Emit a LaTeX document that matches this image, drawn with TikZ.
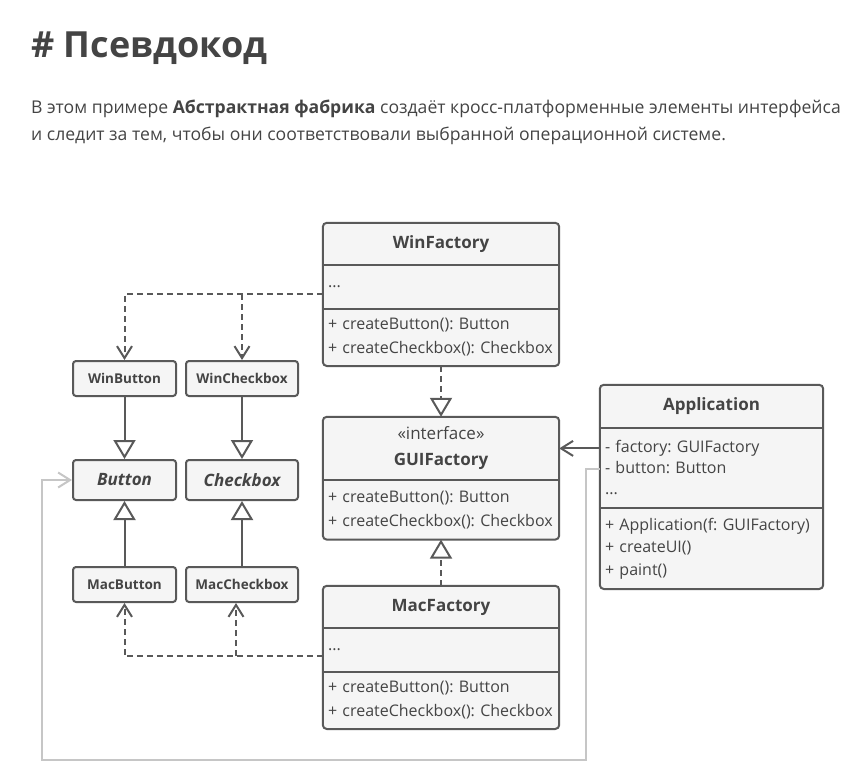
\documentclass[tikz,border=0pt]{standalone}
\usepackage{fontspec}
\setmainfont{Open Sans}
\usepackage{xcolor}
\usetikzlibrary{positioning}
\usetikzlibrary{arrows.meta,backgrounds}
\definecolor{ink}{HTML}{444444}
\definecolor{edgegray}{HTML}{595959}
\definecolor{boxfill}{HTML}{F5F5F5}
\definecolor{loopgray}{HTML}{C6C6C6}
\frenchspacing
\tikzset{edge/.style = {line width=2pt, draw=edgegray},
  inherit/.style = {edge, -{Triangle[open, length=19pt, width=22pt, fill=white]}},
  impl/.style = {inherit, dash pattern=on 6pt off 4pt},
  dep/.style = {edge, dash pattern=on 6pt off 4pt, -{Straight Barb[length=12pt, width=15pt]}},
  assoc/.style = {edge, -{Straight Barb[length=12pt, width=15pt]}},
  frame/.style = {line width=2pt, draw=edgegray, fill=boxfill, rounded corners=4pt}}

\begin{document}
\begin{tikzpicture}[x=1pt, y=-1pt, node distance=0pt, text=ink,
    head/.style={inner xsep=5pt, inner ysep=0pt, align=center, font=\fontsize{17}{26}\selectfont\bfseries},
    part/.style={inner xsep=5pt, inner ysep=0pt, align=left, font=\fontsize{16}{24}\selectfont},
    small/.style={draw=edgegray, fill=boxfill, line width=2pt, rounded corners=3pt, inner sep=0pt, minimum height=35pt, font=\fontsize{13.5}{13.5}\selectfont\bfseries},
    abstract/.style={small, minimum height=40pt, font=\fontsize{17}{17}\selectfont\bfseries\itshape}]
  \useasboundingbox (0,0) rectangle (864,779);

  % heading
  \node[anchor=base west, inner sep=0pt, font=\fontsize{36}{36}\selectfont\bfseries] (title) at (31,57) {\# Псевдокод};
  \node[anchor=base west, inner sep=0pt, font=\fontsize{17.6}{27}\selectfont] (intro1) at (31,113) {В этом примере \textbf{Абстрактная фабрика} создаёт кросс-платформенные элементы интерфейса};
  \node[anchor=base west, inner sep=0pt, font=\fontsize{17.6}{27}\selectfont] (intro2) at (31,140) {и следит за тем, чтобы они соответствовали выбранной операционной системе.};

  % factories
  \node[head, text width=226pt, minimum height=42pt] (winhead) at (441,244) {WinFactory};
  \node[part, text width=226pt, minimum height=43pt, below=of winhead] (winattr) {...};
  \node[part, text width=226pt, minimum height=57pt, below=of winattr] (winmeth) {+ createButton(): Button\\+ createCheckbox(): Checkbox};

  \node[head, text width=226pt, minimum height=63pt, font=\fontsize{17}{26}\selectfont] (guihead) at (441,448.5) {«interface»\\\textbf{GUIFactory}};
  \node[part, text width=226pt, minimum height=59pt, below=of guihead] (guimeth) {+ createButton(): Button\\+ createCheckbox(): Checkbox};

  \node[head, text width=226pt, minimum height=42pt] (machead) at (441,607) {MacFactory};
  \node[part, text width=226pt, minimum height=43pt, below=of machead] (macattr) {...};
  \node[part, text width=226pt, minimum height=57pt, below=of macattr] (macmeth) {+ createButton(): Button\\+ createCheckbox(): Checkbox};

  \node[head, text width=213pt, minimum height=43pt] (apphead) at (711.5,406.5) {Application};
  \node[part, text width=213pt, minimum height=79pt, below=of apphead, font=\fontsize{16}{21}\selectfont] (appattr) {- factory: GUIFactory\\- button: Button\\...};
  \node[part, text width=213pt, minimum height=81pt, below=of appattr, font=\fontsize{16}{22.5}\selectfont] (appmeth) {+ Application(f: GUIFactory)\\+ createUI()\\+ paint()};

  \begin{scope}[on background layer]
    \draw[frame] (winhead.north west) rectangle (winmeth.south east);
    \draw[edge] (winattr.north west) -- (winattr.north east);
    \draw[edge] (winmeth.north west) -- (winmeth.north east);
    \draw[frame] (guihead.north west) rectangle (guimeth.south east);
    \draw[edge] (guimeth.north west) -- (guimeth.north east);
    \draw[frame] (machead.north west) rectangle (macmeth.south east);
    \draw[edge] (macattr.north west) -- (macattr.north east);
    \draw[edge] (macmeth.north west) -- (macmeth.north east);
    \draw[frame] (apphead.north west) rectangle (appmeth.south east);
    \draw[edge] (appattr.north west) -- (appattr.north east);
    \draw[edge] (appmeth.north west) -- (appmeth.north east);
  \end{scope}

  % products
  \node[small, minimum width=103pt] (winbtn) at (124.5,378.5) {WinButton};
  \node[small, minimum width=112pt] (winchk) at (242,378.5) {WinCheckbox};
  \node[abstract, minimum width=103pt] (btn) at (124.5,480) {Button};
  \node[abstract, minimum width=112pt] (chk) at (242,480) {Checkbox};
  \node[small, minimum width=103pt] (macbtn) at (124.5,584.5) {MacButton};
  \node[small, minimum width=112pt] (macchk) at (242,584.5) {MacCheckbox};

  \coordinate (winlink) at ([yshift=-7.5pt]winattr.west);
  \coordinate (maclink) at ([yshift=-6.5pt]macattr.west);
  \coordinate (macfork) at (236,656);
  \coordinate (appfac) at ([yshift=19.5pt]appattr.west);
  \coordinate (loopa) at (586,760);
  \coordinate (loopb) at (42,760);

  \draw[inherit] (winbtn) -- (btn);
  \draw[inherit] (winchk) -- (chk);
  \draw[inherit] (macbtn) -- (btn);
  \draw[inherit] (macchk) -- (chk);
  \draw[impl] (winmeth) -- (guihead);
  \draw[impl] (machead) -- (guimeth);
  \draw[dep] (winlink) -| (winbtn.north);
  \draw[dep] (winlink -| winchk.north) -- (winchk.north);
  \draw[dep] (maclink) -| (macbtn.south);
  \draw[dep] (macfork) -- (macfork |- macchk.south);
  \draw[assoc] (appfac) -- (appfac -| guihead.east);
  \draw[edge, draw=loopgray, -{Straight Barb[length=12pt, width=15pt]}] ([yshift=-1.5pt]appattr.west) -| (loopa) -- (loopb) |- (btn.west);
\end{tikzpicture}
\end{document}
